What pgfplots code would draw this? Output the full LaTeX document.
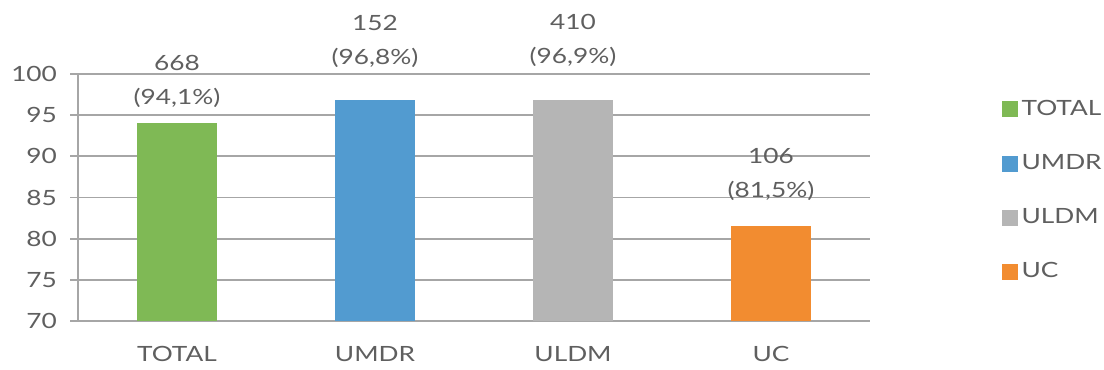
\documentclass[border=0pt]{standalone}
\usepackage{pgfplots}
\pgfplotsset{compat=1.18}
\usepackage{fontspec}
\setmainfont[FakeStretch=1.25]{Lato}
\definecolor{cgreen}{HTML}{7FB955}
\definecolor{cblue}{HTML}{529BD0}
\definecolor{cgray}{HTML}{B5B5B5}
\definecolor{corange}{HTML}{F28C30}
\definecolor{ctext}{HTML}{5F5F5F}
\definecolor{cgrid}{HTML}{A6A6A6}
\begin{document}
\begin{tikzpicture}
\begin{axis}[
  scale only axis,
  width=396pt, height=123.5pt,
  xmin=-0.5, xmax=3.5, ymin=70, ymax=100,
  axis x line=bottom, axis y line=left,
  axis line style={cgrid, line width=0.9pt, -},
  ytick={70,75,...,100},
  ymajorgrids, grid style={cgrid, line width=0.9pt},
  ytick style={cgrid, line width=0.9pt},
  tick align=outside,
  major tick length=4pt,
  xtick={0,1,2,3},
  xticklabels={TOTAL,UMDR,ULDM,UC},
  xtick style={draw=none},
  extra x ticks={-0.5,0.5,1.5,2.5,3.5},
  extra x tick labels={},
  extra x tick style={xtick style={cgrid, line width=0.9pt}, major tick length=4.5pt, grid=none},
  tick label style={font=\fontsize{10.5}{12}\selectfont, text=ctext},
  /pgf/number format/assume math mode=true,
  yticklabel style={xshift=-3pt},
  xticklabel style={yshift=-5pt},
  ybar, bar width=40pt, bar shift=0pt,
  point meta=explicit symbolic,
  nodes near coords,
  nodes near coords style={font=\fontsize{10.5}{17}\selectfont, text=ctext, align=center, anchor=south, yshift=4pt},
  legend style={draw=none, at={(1.158,0.528)}, anchor=west, row sep=14pt, font=\fontsize{10.5}{12}\selectfont, text=ctext, legend cell align=left},
  legend image code/.code={\fill[#1] (0cm,-4pt) rectangle (8pt,4pt);},
  clip=false,
]
\addplot[fill=cgreen, draw=none] coordinates {(0,94.1) [668\\(94,1\%)]};
\addlegendentry{TOTAL}
\addplot[fill=cblue, draw=none, nodes near coords style={yshift=9pt}] coordinates {(1,96.8) [152\\(96,8\%)]};
\addlegendentry{UMDR}
\addplot[fill=cgray, draw=none, nodes near coords style={yshift=9pt}] coordinates {(2,96.9) [410\\(96,9\%)]};
\addlegendentry{ULDM}
\addplot[fill=corange, draw=none, nodes near coords style={yshift=5.5pt}] coordinates {(3,81.5) [106\\(81,5\%)]};
\addlegendentry{UC}
\end{axis}
\pgfresetboundingbox
\path[use as bounding box] ([xshift=-39pt,yshift=-24pt]current axis.south west) rectangle ([xshift=117pt,yshift=37pt]current axis.north east);
\end{tikzpicture}
\end{document}
